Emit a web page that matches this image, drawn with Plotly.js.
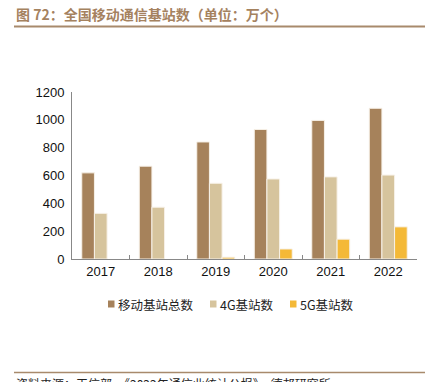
<!DOCTYPE html>
<html><head><meta charset="utf-8">
<script src="https://cdn.plot.ly/plotly-3.0.1.min.js"></script>
<style>html,body{margin:0;padding:0;background:#fff;}#chart{width:445px;height:382px;}</style>
</head><body><div id="chart"></div>
<script>
const years = ['2017','2018','2019','2020','2021','2022'];
const totalStations = [619, 667, 841, 931, 996, 1083];
const stations4G = [328, 372, 544, 575, 590, 603];
const stations5G = [null, null, 13, 72, 142.5, 231];
const seriesNames = ['移动基站总数', '4G基站数', '5G基站数'];
const colors = ['#A6825B', '#D6C49D', '#F4B937'];

const W = 445, H = 382;
const L = 72, R = 28, T = 92, B = 123;
const pw = W - L - R, ph = H - T - B;
const px = x => (x - L) / pw;
const py = y => (H - B - y) / ph;

const mk = (y, i) => ({
  type: 'bar', x: years, y: y, name: seriesNames[i],
  marker: {color: colors[i], line: {color: '#F7F1E8', width: 1}},
  hoverinfo: 'skip', showlegend: false
});
const data = [mk(totalStations,0), mk(stations4G,1), mk(stations5G,2)];

const cjk = '"Noto Sans CJK SC", sans-serif';
const annotations = [
  {xref: 'paper', yref: 'paper', x: px(14), y: py(14), xanchor: 'left', yanchor: 'middle',
   showarrow: false, text: '<b>图 72：全国移动通信基站数（单位：万个）</b>',
   font: {family: cjk, size: 14, color: '#A5825F'}},
  {xref: 'paper', yref: 'paper', x: px(14), y: py(383), xanchor: 'left', yanchor: 'middle',
   showarrow: false, text: '资料来源：工信部，《2022年通信业统计公报》，德邦研究所',
   font: {family: cjk, size: 12, color: '#222'}}
];
const shapes = [
  {type: 'line', xref: 'paper', yref: 'paper', x0: px(14), x1: px(425), y0: py(26.5), y1: py(26.5),
   line: {color: '#A88A6C', width: 2}},
  {type: 'line', xref: 'paper', yref: 'paper', x0: px(14), x1: px(425), y0: py(372.5), y1: py(372.5),
   line: {color: '#A88A6C', width: 1.5}}
];
// manual legend
const legX = [108, 210, 290];
const legY = 304;
seriesNames.forEach((n, i) => {
  shapes.push({type: 'rect', xref: 'paper', yref: 'paper',
    x0: px(legX[i]), x1: px(legX[i] + 6.5), y0: py(legY - 3.5), y1: py(legY + 3.5),
    fillcolor: colors[i], line: {width: 0}});
  annotations.push({xref: 'paper', yref: 'paper', x: px(legX[i] + 8), y: py(legY), xanchor: 'left', yanchor: 'middle',
    showarrow: false, text: n, font: {family: cjk, size: 12.5, color: '#222'}});
});

const layout = {
  width: W, height: H,
  margin: {l: L, r: R, t: T, b: B},
  paper_bgcolor: '#fff', plot_bgcolor: '#fff',
  barmode: 'group', bargap: 0.34, bargroupgap: 0,
  showlegend: false,
  xaxis: {type: 'category', showline: true, linecolor: '#888', linewidth: 1,
    ticks: 'inside', tickson: 'boundaries', ticklen: 4, tickcolor: '#888',
    showgrid: false, zeroline: false,
    tickfont: {family: 'Liberation Sans, Arial, sans-serif', size: 13, color: '#111'}},
  yaxis: {range: [0, 1200], dtick: 200, showline: true, linecolor: '#888', linewidth: 1,
    showgrid: false, zeroline: false, ticks: '', ticklabelstandoff: 4,
    tickfont: {family: 'Liberation Sans, Arial, sans-serif', size: 13, color: '#111'}},
  annotations: annotations,
  shapes: shapes
};
Plotly.newPlot('chart', data, layout, {displayModeBar: false, staticPlot: true});
</script></body></html>
